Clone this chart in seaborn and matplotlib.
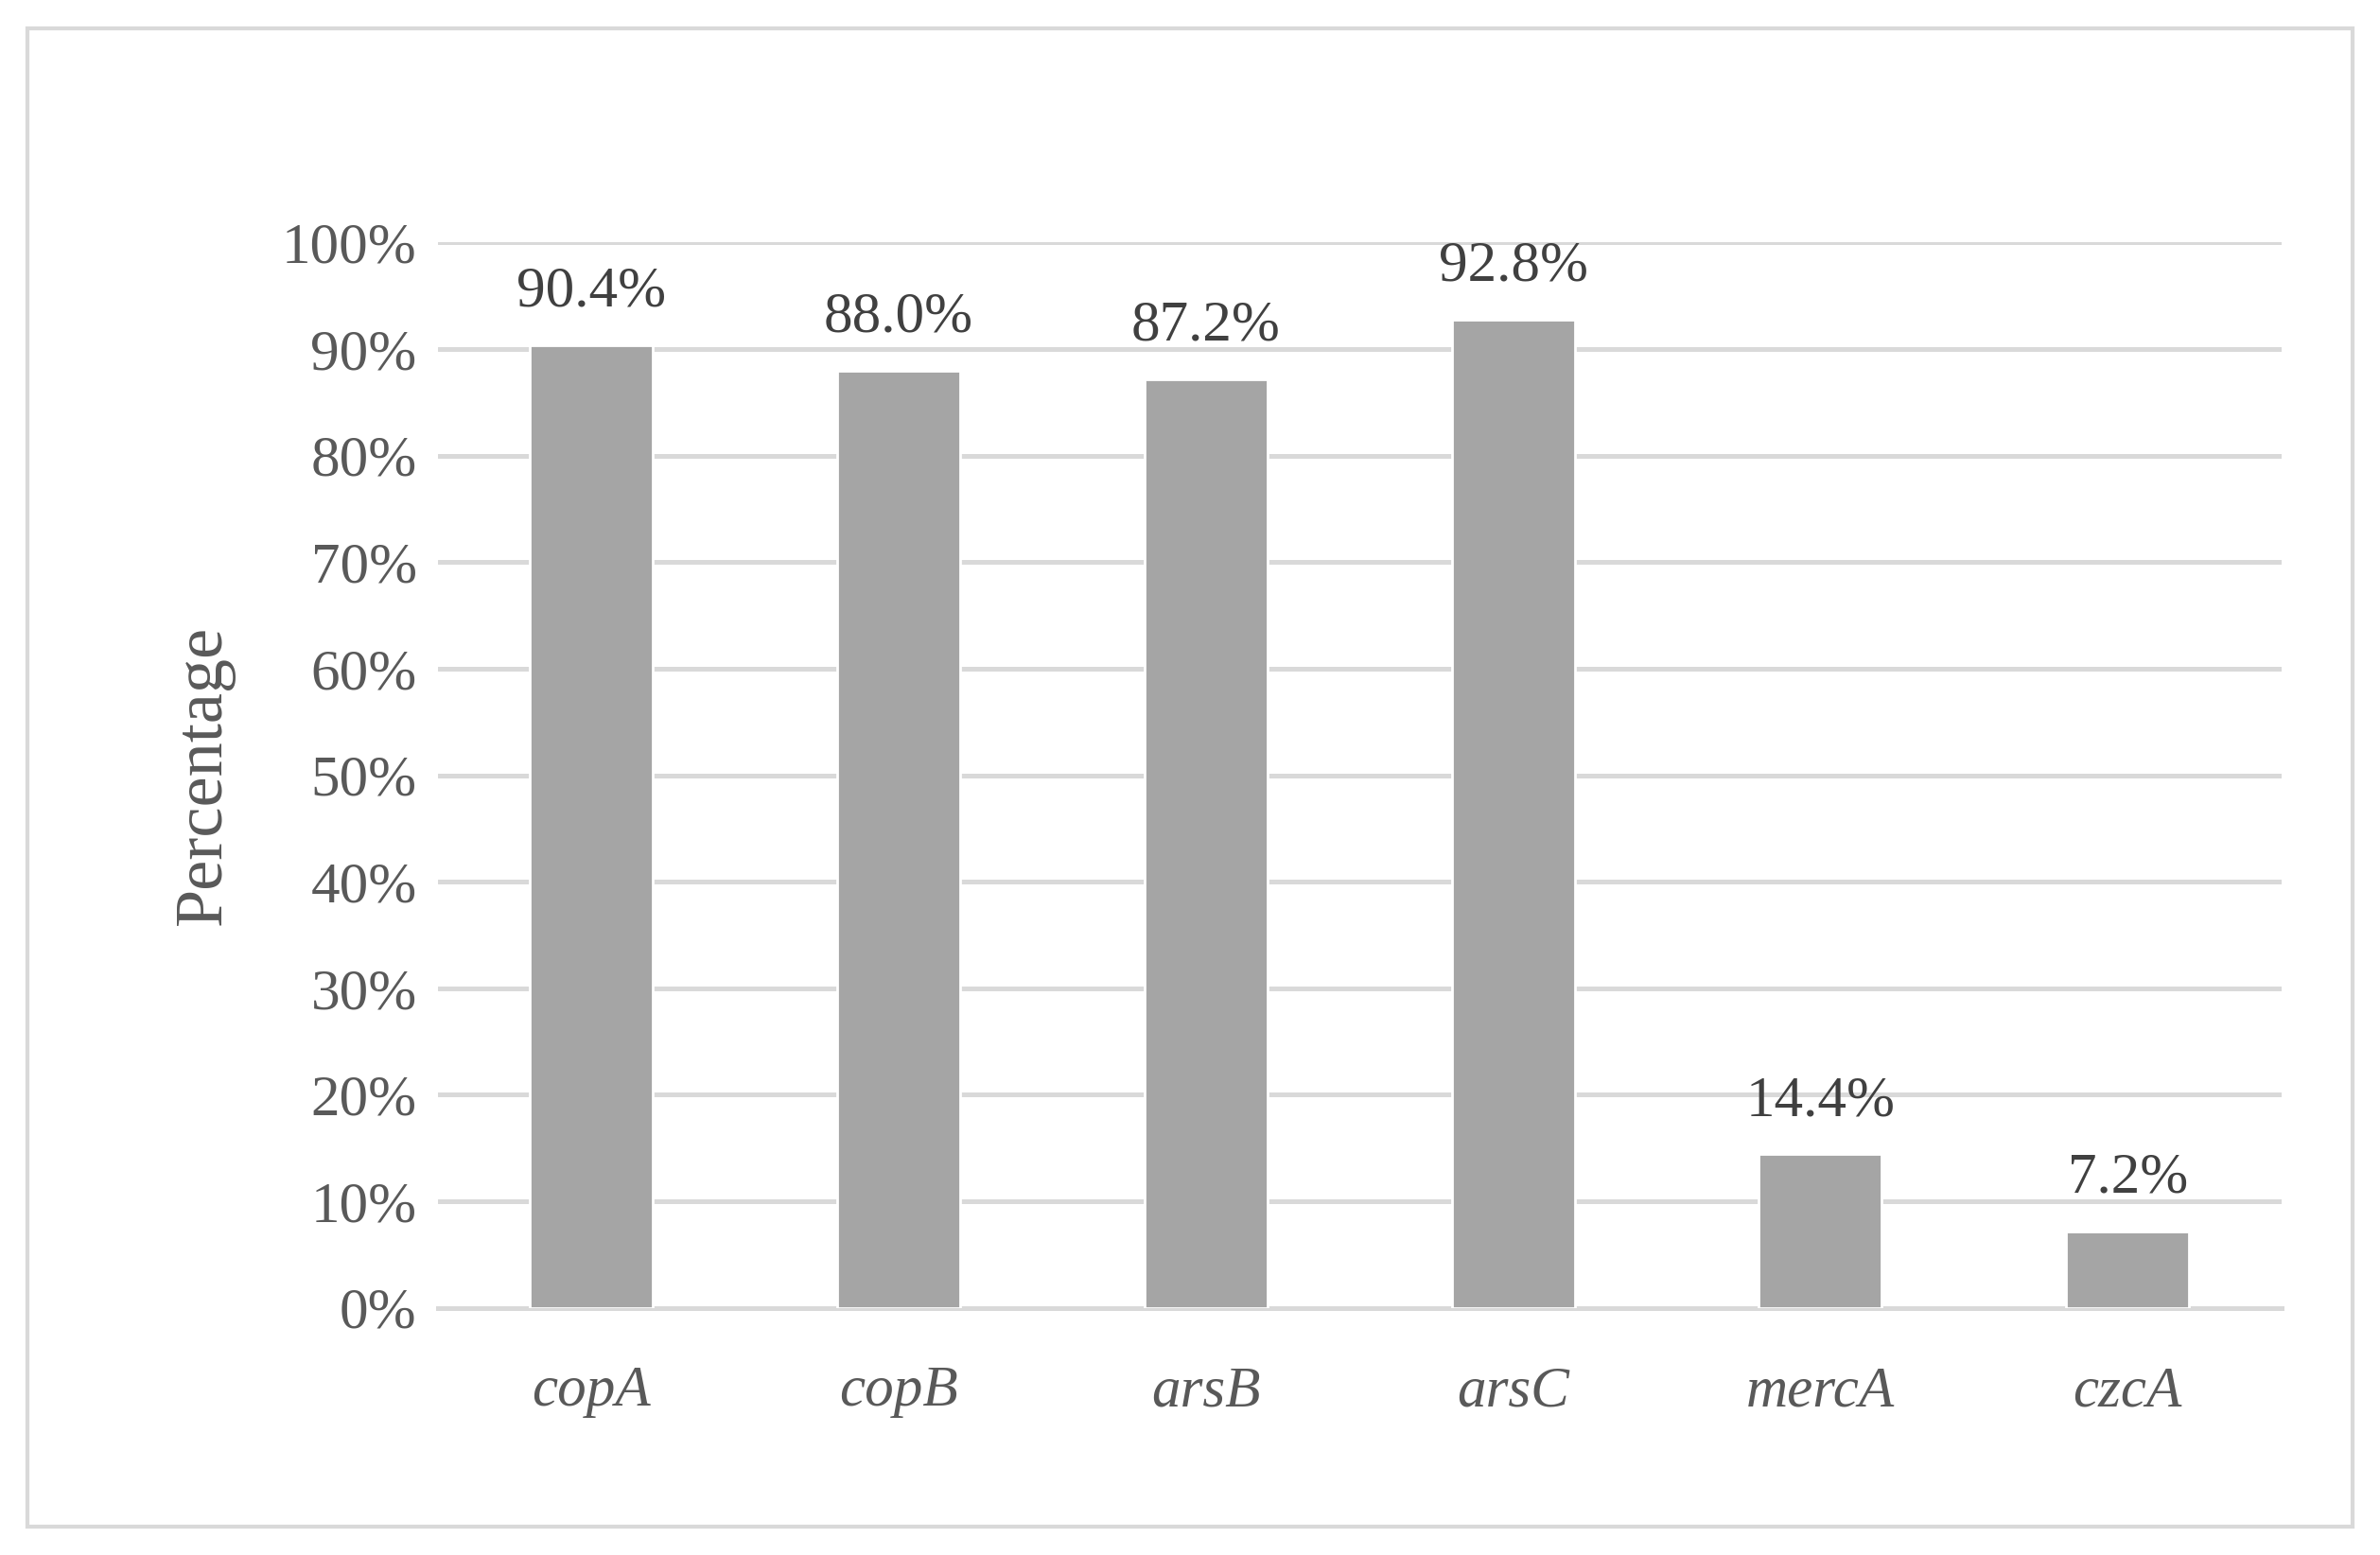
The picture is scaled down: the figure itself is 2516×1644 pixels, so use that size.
import numpy as np
import pandas as pd
import seaborn as sns
import matplotlib.pyplot as plt
from matplotlib.patches import Rectangle

genes = ['copA', 'copB', 'arsB', 'arsC', 'mercA', 'czcA']
values = [90.4, 88.0, 87.2, 92.8, 14.4, 7.2]

sns.set_theme(style='white')
plt.rcParams['font.family'] = ['Liberation Serif', 'DejaVu Serif']

df = pd.DataFrame({'gene': genes, 'pct': np.array(values) / 100})

fig = plt.figure(figsize=(12.58, 8.22), dpi=200)
ax = fig.add_axes([0.184, 0.159, 0.7745, 0.685])
sns.barplot(df, x='gene', y='pct', color='#a5a5a5', width=0.4,
            saturation=1, ax=ax, zorder=3)

for i, v in enumerate(values):
    ax.text(i, v / 100 + 0.025, f'{v:.1f}%', ha='center', va='bottom',
            fontsize=22, color='#404040', clip_on=False)

ax.set_ylim(0, 1.0)
ax.set_xlim(-0.5, 5.5)
ax.set_yticks(np.arange(0, 1.01, 0.1))
ax.set_yticklabels([f'{int(t)}%' for t in range(0, 101, 10)],
                   fontsize=22, color='#595959')
ax.set_xticklabels(genes, fontsize=22, color='#595959', style='italic')
ax.set_xticks(np.arange(-0.5, 6, 1), minor=True)
ax.tick_params(axis='x', which='major', length=0, pad=22)
ax.tick_params(axis='x', which='minor', length=11, color='#d9d9d9', width=1.5)
ax.tick_params(axis='y', length=0, pad=8)
ax.grid(axis='y', color='#d9d9d9', linewidth=1.8, zorder=0)
ax.set_xlabel('')
ax.set_ylabel('Percentage', fontsize=26, color='#595959', labelpad=18)
for s in ['top', 'right', 'left']:
    ax.spines[s].set_visible(False)
ax.spines['bottom'].set_color('#d9d9d9')
ax.spines['bottom'].set_linewidth(1.8)

fig.patches.append(Rectangle((0.0115, 0.018), 0.977, 0.964, transform=fig.transFigure,
                             fill=False, edgecolor='#d9d9d9', linewidth=1.5))

fig.savefig('out.png', dpi=200)
